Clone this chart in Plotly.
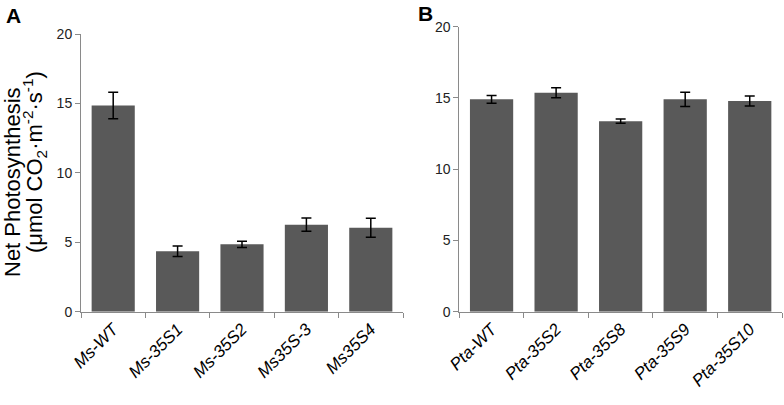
import plotly.graph_objects as go

cats_a = ["Ms-WT", "Ms-35S1", "Ms-35S2", "Ms35S-3", "Ms35S4"]
vals_a = [14.85, 4.35, 4.85, 6.27, 6.05]
err_a = [0.95, 0.38, 0.23, 0.48, 0.68]

cats_b = ["Pta-WT", "Pta-35S2", "Pta-35S8", "Pta-35S9", "Pta-35S10"]
vals_b = [14.9, 15.37, 13.37, 14.9, 14.78]
err_b = [0.27, 0.35, 0.15, 0.5, 0.35]

y_ticks = [0, 5, 10, 15, 20]

BAR = "#595959"
AX = "#8a8a8a"
FONT = "Liberation Sans, Arial, sans-serif"

fig = go.Figure()
fig.add_trace(go.Bar(x=cats_a, y=vals_a, marker=dict(color=BAR, line=dict(width=0)),
                     error_y=dict(type="data", array=err_a, color="black", thickness=1.5, width=5),
                     xaxis="x", yaxis="y"))
fig.add_trace(go.Bar(x=cats_b, y=vals_b, marker=dict(color=BAR, line=dict(width=0)),
                     error_y=dict(type="data", array=err_b, color="black", thickness=1.5, width=5),
                     xaxis="x2", yaxis="y2"))

xcommon = dict(type="category", showline=True, linecolor=AX, linewidth=1, ticks="outside",
               tickson="boundaries", ticklen=5, tickcolor=AX, tickangle=-45, automargin=False,
               tickfont=dict(family=FONT, size=17, color="black", style="italic"),
               showgrid=False, zeroline=False)
ycommon = dict(range=[0, 20], tickvals=y_ticks, showline=True, linecolor=AX, linewidth=1,
               ticks="outside", ticklen=5, tickcolor=AX, automargin=False,
               tickfont=dict(family=FONT, size=14, color="#222"),
               showgrid=False, zeroline=False)

fig.update_layout(
    width=784, height=405,
    margin=dict(l=0, r=0, t=0, b=0, autoexpand=False),
    paper_bgcolor="white", plot_bgcolor="white",
    showlegend=False, bargap=0.33,
    xaxis=dict(domain=[81/784, 403/784], anchor="y", **xcommon),
    yaxis=dict(domain=[(405-311.7)/405, (405-34)/405], anchor="x", **ycommon),
    xaxis2=dict(domain=[459.3/784, 782/784], anchor="y2", **xcommon),
    yaxis2=dict(domain=[(405-311.7)/405, (405-26.7)/405], anchor="x2", **ycommon),
)

fig.add_annotation(text="<b>A</b>", x=4/784, y=1-2/405, xref="paper", yref="paper",
                   xanchor="left", yanchor="top", showarrow=False,
                   font=dict(family=FONT, size=21, color="black"))
fig.add_annotation(text="<b>B</b>", x=416/784, y=1-0/405, xref="paper", yref="paper",
                   xanchor="left", yanchor="top", showarrow=False,
                   font=dict(family=FONT, size=21, color="black"))
fig.add_annotation(text="Net Photosynthesis", x=12/784, y=1-182/405, xref="paper", yref="paper",
                   xanchor="center", yanchor="middle", showarrow=False, textangle=-90,
                   font=dict(family=FONT, size=22, color="black"))
fig.add_annotation(text="(μmol CO<sub>2</sub>·m<sup>-2</sup>·s<sup>-1</sup>)", x=34/784, y=1-162/405,
                   xref="paper", yref="paper",
                   xanchor="center", yanchor="middle", showarrow=False, textangle=-90,
                   font=dict(family=FONT, size=22, color="black"))

fig.write_html("out.html", config={"displayModeBar": False},
               post_script="document.body.style.margin='0';document.body.style.overflow='hidden';")
